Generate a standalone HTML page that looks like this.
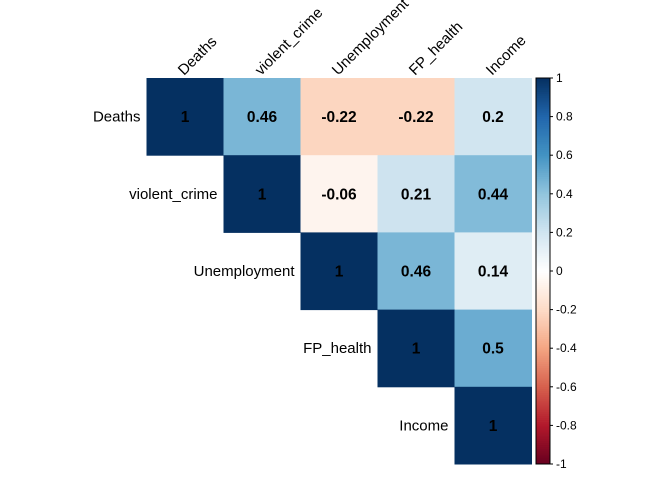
<!DOCTYPE html>
<html><head><meta charset="utf-8"><style>
body{margin:0;background:#fff;}
svg{display:block;font-family:"Liberation Sans",Arial,sans-serif;}
</style></head><body>
<svg id="chart" width="672" height="480"></svg>
<script>
const variables = ["Deaths","violent_crime","Unemployment","FP_health","Income"];
const corrRow0 = [1, 0.46, -0.22, -0.22, 0.2];
const corrRow1 = [null, 1, -0.06, 0.21, 0.44];
const corrRow2 = [null, null, 1, 0.46, 0.14];
const corrRow3 = [null, null, null, 1, 0.5];
const corrRow4 = [null, null, null, null, 1];
const corrLabels0 = ["1","0.46","-0.22","-0.22","0.2"];
const corrLabels1 = ["","1","-0.06","0.21","0.44"];
const corrLabels2 = ["","","1","0.46","0.14"];
const corrLabels3 = ["","","","1","0.5"];
const corrLabels4 = ["","","","","1"];
const colorbarTicks = [-1,-0.8,-0.6,-0.4,-0.2,0,0.2,0.4,0.6,0.8,1];
const colorbarTickLabels = ["-1","-0.8","-0.6","-0.4","-0.2","0","0.2","0.4","0.6","0.8","1"];

const rows=[corrRow0,corrRow1,corrRow2,corrRow3,corrRow4];
const labs=[corrLabels0,corrLabels1,corrLabels2,corrLabels3,corrLabels4];
const pal=["#67001F","#B2182B","#D6604D","#F4A582","#FDDBC7","#FFFFFF","#D1E5F0","#92C5DE","#4393C3","#2166AC","#053061"];
function hex(h){return [1,3,5].map(i=>parseInt(h.substr(i,2),16));}
function color(v){let t=(v+1)/2*(pal.length-1);let i=Math.min(Math.floor(t),pal.length-2);let f=t-i;
 const a=hex(pal[i]),b=hex(pal[i+1]);return "rgb("+a.map((x,k)=>Math.round(x+(b[k]-x)*f)).join(",")+")";}
const X0=146.5,Y0=78,CW=77,CH=77.2;
const xs=j=>X0+j*CW, ys=i=>Y0+i*CH;
const NS="http://www.w3.org/2000/svg";
const svg=document.getElementById("chart");
function el(t,a,p){const e=document.createElementNS(NS,t);for(const k in a)e.setAttribute(k,a[k]);(p||svg).appendChild(e);return e;}
const n=variables.length;
for(let i=0;i<n;i++){for(let j=i;j<n;j++){
 const v=rows[i][j]; if(v===null)continue;
 const r=el("rect",{x:xs(j),y:ys(i),width:CW+0.5,height:CH+0.5,fill:color(v)});
 
 
 const t=el("text",{x:xs(j)+CW/2,y:ys(i)+CH/2+5.5,"text-anchor":"middle","font-size":"15.5","font-weight":"bold",fill:"#000"});
 t.textContent=labs[i][j];
 
 
}}
for(let i=0;i<n;i++){
 const t=el("text",{x:xs(i)-6,y:ys(i)+CH/2+5,"text-anchor":"end","font-size":"15",fill:"#000"});
 t.textContent=variables[i];
 
 
 const cx=xs(i)+CW/2-1,cy=76;
 const c=el("text",{x:cx,y:cy,"text-anchor":"start","font-size":"15",fill:"#000",transform:"rotate(-45 "+cx+" "+cy+")"});
 c.textContent=variables[i];
 
 
}
const CB={x:536,y0:78,y1:464,w:14};
const cby=v=>CB.y1-(v+1)/2*(CB.y1-CB.y0);
const g=el("g",{});


for(let k=0;k<200;k++){const v1=-1+k*0.01,v2=v1+0.01;
 el("rect",{x:CB.x,y:cby(v2),width:CB.w,height:cby(v1)-cby(v2)+0.4,fill:color(v1+0.005)},g);}
el("rect",{x:CB.x,y:CB.y0,width:CB.w,height:CB.y1-CB.y0,fill:"none",stroke:"#000","stroke-width":"1"},g);
colorbarTicks.forEach((v,k)=>{
 el("line",{x1:CB.x+CB.w,x2:CB.x+CB.w+3,y1:cby(v),y2:cby(v),stroke:"#000"},g);
 const t=el("text",{x:CB.x+CB.w+6,y:cby(v)+4,"font-size":"12",fill:"#000"},g);
 t.textContent=colorbarTickLabels[k];
 
 
});
</script>
</body></html>
